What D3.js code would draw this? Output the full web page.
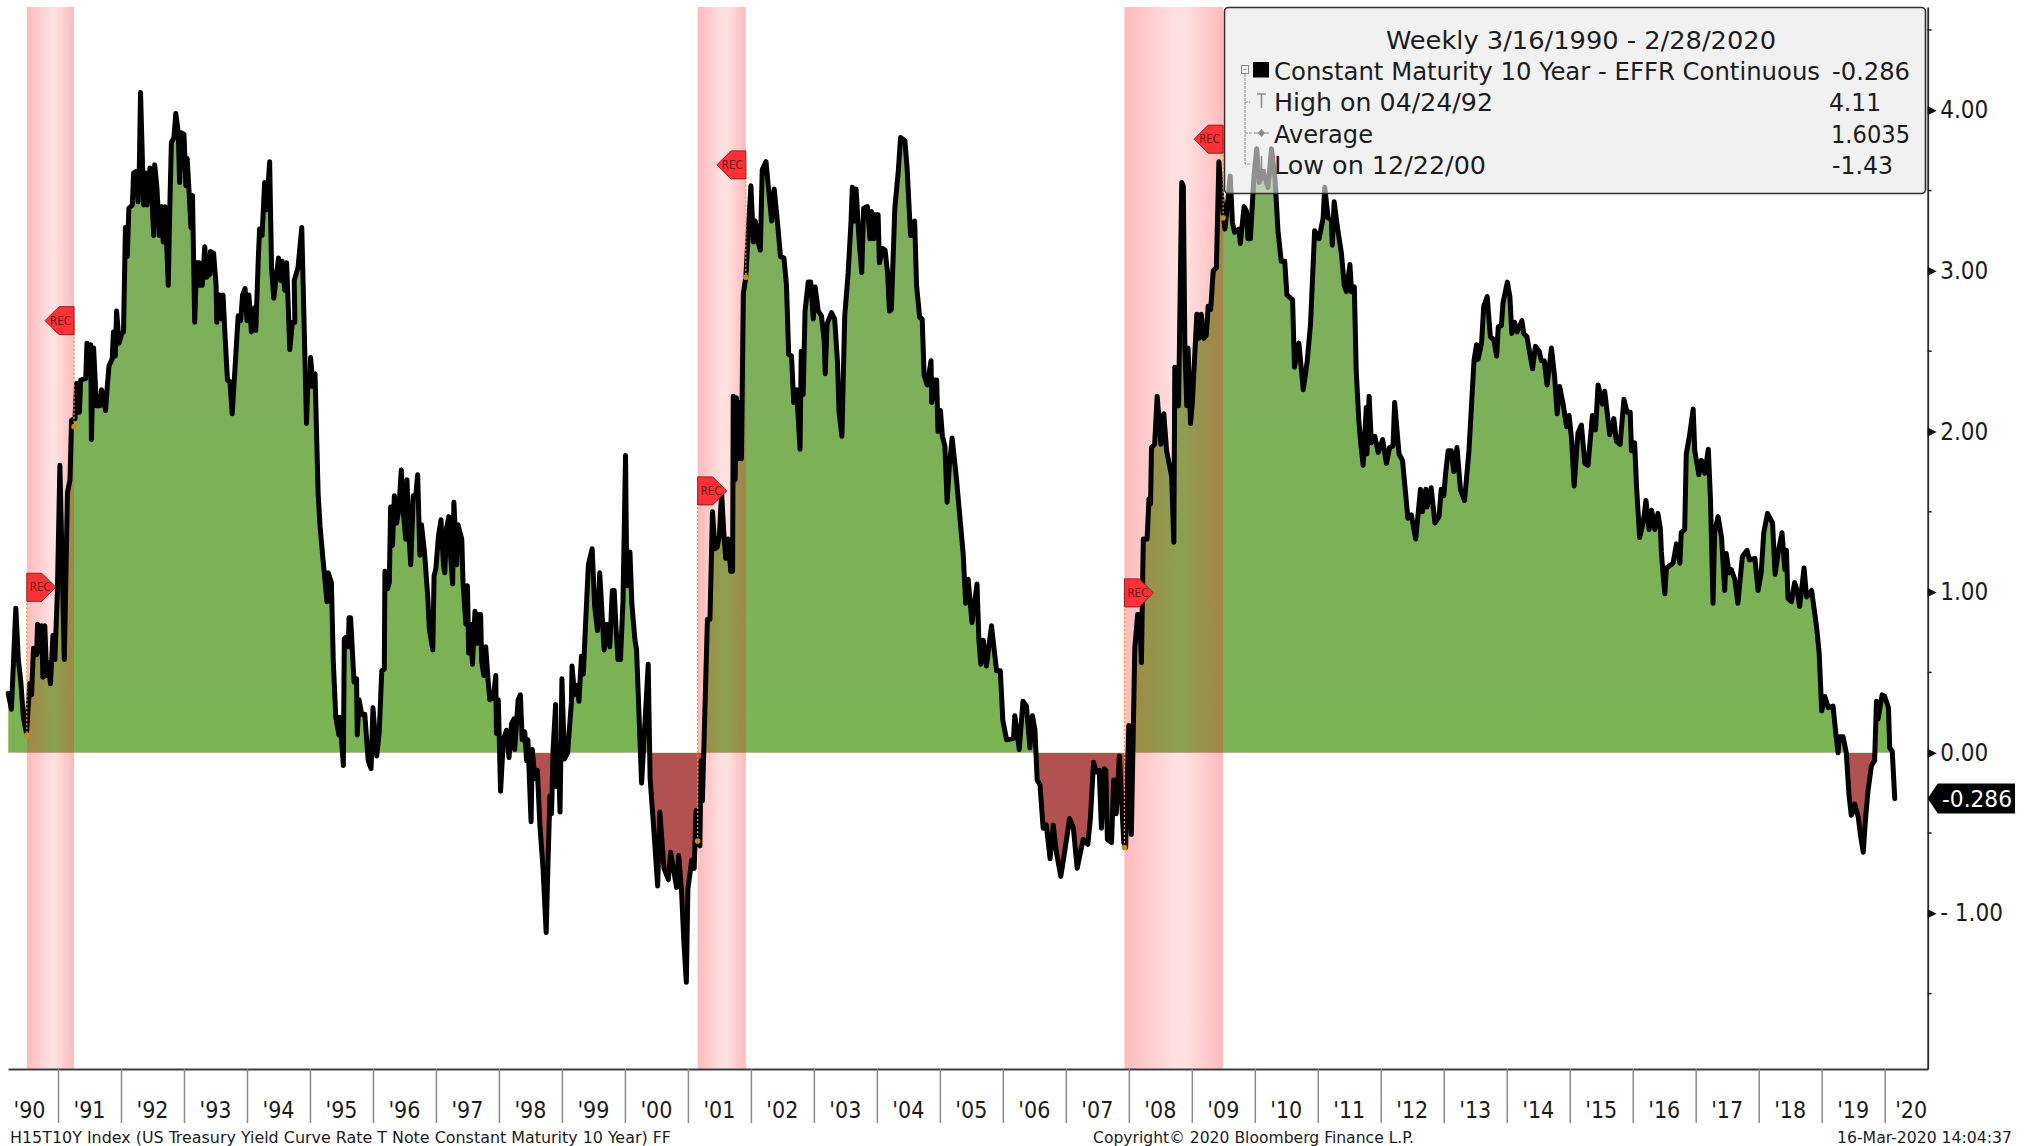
<!DOCTYPE html>
<html>
<head>
<meta charset="utf-8">
<script src="https://cdnjs.cloudflare.com/ajax/libs/d3/7.8.5/d3.min.js"></script>
<style>
html,body{margin:0;padding:0;background:#fff;}
svg{display:block;}
text{font-family:"DejaVu Sans Condensed","DejaVu Sans",sans-serif;font-stretch:condensed;fill:#1c1c1c;}
</style>
</head>
<body>
<svg id="chart" width="2028" height="1146"></svg>
<script>
// [decimal year, spread in percentage points]
const spread1990to1995 = [[1990.21,.37],[1990.26,.27],[1990.33,.90],[1990.37,.58],[1990.41,.44],[1990.45,.22],[1990.50,.12],[1990.55,.43],[1990.58,.36],[1990.61,.65],[1990.66,.61],[1990.675,.80],[1990.71,.63],[1990.74,.79],[1990.76,.47],[1990.79,.79],[1990.82,.48],[1990.845,.56],[1990.88,.43],[1990.92,.73],[1990.95,.58],[1990.99,1.0],[1991.03,1.79],[1991.10,.58],[1991.15,1.62],[1991.19,1.70],[1991.215,2.07],[1991.27,2.08],[1991.295,2.30],[1991.34,2.12],[1991.36,2.32],[1991.44,2.33],[1991.46,2.55],[1991.50,2.36],[1991.52,2.54],[1991.53,1.95],[1991.565,2.52],[1991.61,2.16],[1991.665,2.16],[1991.69,2.26],[1991.72,2.21],[1991.755,2.13],[1991.78,2.27],[1991.81,2.41],[1991.86,2.45],[1991.88,2.62],[1991.91,2.47],[1991.93,2.75],[1991.97,2.55],[1992.01,2.61],[1992.04,2.62],[1992.07,3.27],[1992.10,3.09],[1992.125,3.39],[1992.18,3.41],[1992.20,3.61],[1992.25,3.62],[1992.27,3.43],[1992.29,3.62],[1992.31,4.11],[1992.36,3.41],[1992.39,3.61],[1992.41,3.41],[1992.46,3.64],[1992.485,3.50],[1992.52,3.22],[1992.535,3.66],[1992.57,3.52],[1992.61,3.22],[1992.65,3.40],[1992.67,3.18],[1992.70,3.40],[1992.72,3.22],[1992.75,2.91],[1992.775,3.40],[1992.80,3.80],[1992.84,3.83],[1992.87,3.98],[1992.91,3.86],[1992.93,3.55],[1992.96,3.86],[1993.0,3.85],[1993.03,3.53],[1993.05,3.70],[1993.08,3.50],[1993.11,3.27],[1993.135,3.47],[1993.17,2.68],[1993.20,3.05],[1993.24,3.05],[1993.25,2.91],[1993.29,2.91],[1993.33,3.15],[1993.36,2.96],[1993.41,2.98],[1993.42,3.12],[1993.47,3.11],[1993.51,2.91],[1993.52,2.68],[1993.57,2.85],[1993.60,2.70],[1993.62,2.85],[1993.65,2.61],[1993.69,2.32],[1993.73,2.31],[1993.765,2.11],[1993.80,2.33],[1993.86,2.72],[1993.90,2.69],[1993.93,2.85],[1993.97,2.89],[1994.0,2.69],[1994.03,2.85],[1994.07,2.62],[1994.12,2.77],[1994.14,2.63],[1994.18,3.08],[1994.20,3.26],[1994.24,3.22],[1994.28,3.55],[1994.31,3.38],[1994.36,3.68],[1994.39,3.02],[1994.425,2.83],[1994.50,3.08],[1994.54,2.94],[1994.56,3.06],[1994.60,2.88],[1994.63,3.05],[1994.68,2.51],[1994.72,2.68],[1994.76,2.68],[1994.75,2.94],[1994.81,3.02],[1994.87,3.27],[1994.945,2.05],[1994.97,2.34],[1995.0,2.28],[1995.01,2.46],[1995.05,2.28],[1995.08,2.36],[1995.13,1.61],[1995.16,1.41],[1995.21,1.19],[1995.27,.94],[1995.29,1.12]];
const spread1995to2001 = [[1995.34,1.06],[1995.37,.57],[1995.41,.22],[1995.46,.11],[1995.475,.22],[1995.53,-.08],[1995.545,.71],[1995.58,.72],[1995.61,.66],[1995.62,.84],[1995.645,.84],[1995.70,.44],[1995.74,.46],[1995.75,.11],[1995.78,.33],[1995.82,.24],[1995.87,.24],[1995.925,-.05],[1995.97,-.10],[1996.0,.28],[1996.06,-.02],[1996.10,.13],[1996.14,.51],[1996.18,.52],[1996.19,1.13],[1996.23,1.02],[1996.26,1.06],[1996.28,1.53],[1996.31,1.29],[1996.34,1.60],[1996.375,1.43],[1996.41,1.51],[1996.45,1.76],[1996.48,1.51],[1996.52,1.33],[1996.54,1.70],[1996.575,1.33],[1996.60,1.17],[1996.64,1.60],[1996.68,1.60],[1996.71,1.73],[1996.745,1.23],[1996.77,1.42],[1996.82,1.24],[1996.87,.97],[1996.895,.77],[1996.95,.64],[1996.97,1.10],[1997.0,1.15],[1997.04,1.35],[1997.08,1.45],[1997.12,1.17],[1997.14,1.12],[1997.17,1.40],[1997.205,1.47],[1997.23,1.24],[1997.265,1.05],[1997.285,1.56],[1997.33,1.17],[1997.35,1.42],[1997.41,1.33],[1997.43,1.06],[1997.475,.80],[1997.50,1.04],[1997.52,.62],[1997.55,.80],[1997.58,.55],[1997.62,.88],[1997.645,.68],[1997.68,.86],[1997.71,.86],[1997.725,.57],[1997.76,.48],[1997.79,.66],[1997.83,.44],[1997.855,.33],[1997.91,.34],[1997.95,.48],[1997.96,.12],[1997.99,.33],[1998.026,-.24],[1998.07,.08],[1998.12,.14],[1998.16,-.03],[1998.20,.18],[1998.24,.21],[1998.25,.02],[1998.305,.33],[1998.34,.36],[1998.37,.08],[1998.41,.13],[1998.44,-.05],[1998.46,.08],[1998.51,-.43],[1998.53,.02],[1998.57,-.16],[1998.61,-.11],[1998.65,-.45],[1998.70,-.72],[1998.75,-1.12],[1998.78,-.67],[1998.81,-.27],[1998.835,-.38],[1998.86,.02],[1998.90,.30],[1998.91,-.21],[1998.94,.02],[1998.97,-.37],[1999.0,.46],[1999.04,-.04],[1999.09,0],[1999.15,.31],[1999.16,.54],[1999.20,.36],[1999.24,.42],[1999.27,.32],[1999.31,.60],[1999.34,.49],[1999.38,.84],[1999.42,1.17],[1999.48,1.27],[1999.52,.91],[1999.565,.76],[1999.60,1.12],[1999.67,.64],[1999.71,.80],[1999.76,.66],[1999.80,1.01],[1999.83,1.01],[1999.86,.77],[1999.89,.58],[1999.93,.58],[1999.97,.95],[2000.01,1.85],[2000.03,1.04],[2000.08,1.25],[2000.11,.93],[2000.16,.70],[2000.185,.64],[2000.265,-.19],[2000.37,.55],[2000.40,-.16],[2000.45,-.43],[2000.52,-.83],[2000.555,-.37],[2000.62,-.72],[2000.69,-.79],[2000.725,-.62],[2000.77,-.72],[2000.82,-.84],[2000.855,-.64],[2000.90,-.87],[2000.935,-1.17],[2000.975,-1.43],[2001.0,-.85],[2001.06,-.67],[2001.10,-.72],[2001.13,-.36],[2001.16,-.56]];
const spread2001to2006 = [[2001.19,-.58],[2001.21,-.05],[2001.23,-.30],[2001.31,.83],[2001.35,.83],[2001.39,1.50],[2001.43,1.27],[2001.465,1.28],[2001.50,1.35],[2001.535,1.62],[2001.57,1.37],[2001.60,1.21],[2001.64,1.33],[2001.68,1.13],[2001.71,1.13],[2001.72,2.22],[2001.75,1.70],[2001.77,2.21],[2001.79,1.83],[2001.83,2.18],[2001.85,1.83],[2001.88,2.86],[2001.92,2.96],[2001.95,3.18],[2002.0,3.53],[2002.04,3.18],[2002.07,3.31],[2002.12,3.17],[2002.15,3.13],[2002.18,3.63],[2002.24,3.68],[2002.28,3.51],[2002.33,3.31],[2002.37,3.51],[2002.42,3.31],[2002.47,3.09],[2002.525,3.08],[2002.565,2.91],[2002.60,2.48],[2002.645,2.47],[2002.68,2.18],[2002.725,2.26],[2002.78,1.89],[2002.80,2.50],[2002.83,2.23],[2002.86,2.75],[2002.91,2.93],[2002.95,2.93],[2002.99,2.70],[2003.02,2.90],[2003.07,2.75],[2003.12,2.72],[2003.165,2.56],[2003.18,2.36],[2003.21,2.67],[2003.28,2.74],[2003.33,2.70],[2003.375,2.43],[2003.40,2.12],[2003.445,1.97],[2003.49,2.72],[2003.545,2.99],[2003.59,3.31],[2003.61,3.52],[2003.64,3.31],[2003.67,3.51],[2003.72,3.18],[2003.76,2.99],[2003.79,3.39],[2003.85,3.40],[2003.89,3.20],[2003.915,3.37],[2003.95,3.20],[2003.97,3.35],[2004.02,3.35],[2004.04,3.05],[2004.09,3.14],[2004.13,3.13],[2004.17,2.99],[2004.20,2.75],[2004.23,2.76],[2004.285,3.39],[2004.34,3.62],[2004.376,3.83],[2004.445,3.81],[2004.48,3.64],[2004.535,3.22],[2004.565,3.22],[2004.60,3.31],[2004.63,2.91],[2004.68,2.71],[2004.72,2.70],[2004.75,2.35],[2004.80,2.29],[2004.86,2.44],[2004.87,2.18],[2004.92,2.32],[2004.95,2.32],[2004.97,2.0],[2005.01,2.13],[2005.04,1.97],[2005.08,1.91],[2005.115,1.56],[2005.15,1.78],[2005.195,1.96],[2005.265,1.70],[2005.31,1.50],[2005.37,1.24],[2005.41,.93],[2005.45,1.08],[2005.51,.81],[2005.59,1.05],[2005.62,.70],[2005.65,.55],[2005.69,.70],[2005.74,.54],[2005.82,.79],[2005.90,.51],[2005.96,.51]];
const spread2006to2011 = [[2006.0,.20],[2006.06,.08],[2006.17,.09],[2006.19,.23],[2006.26,.02],[2006.32,.32],[2006.375,.29],[2006.43,.03],[2006.47,.23],[2006.51,.14],[2006.545,-.17],[2006.59,-.20],[2006.64,-.47],[2006.69,-.45],[2006.75,-.66],[2006.80,-.45],[2006.85,-.62],[2006.92,-.77],[2006.98,-.62],[2007.06,-.41],[2007.12,-.47],[2007.18,-.72],[2007.275,-.54],[2007.35,-.57],[2007.39,-.41],[2007.44,-.06],[2007.48,-.12],[2007.53,-.11],[2007.565,-.47],[2007.61,-.10],[2007.635,-.11],[2007.66,-.54],[2007.725,-.56],[2007.76,-.17],[2007.80,-.38],[2007.85,-.02],[2007.92,-.56],[2007.95,-.59],[2008.0,.17],[2008.04,-.51],[2008.095,.65],[2008.14,.86],[2008.175,.86],[2008.20,.56],[2008.23,1.33],[2008.29,1.33],[2008.32,1.58],[2008.345,1.55],[2008.36,1.90],[2008.41,1.92],[2008.45,2.22],[2008.48,2.07],[2008.51,1.92],[2008.555,2.11],[2008.60,1.88],[2008.68,1.72],[2008.715,1.31],[2008.73,2.40],[2008.76,2.16],[2008.79,2.16],[2008.84,3.55],[2008.865,3.53],[2008.89,2.52],[2008.92,2.16],[2008.94,2.52],[2008.98,2.05],[2009.01,2.19],[2009.08,2.73],[2009.115,2.58],[2009.15,2.73],[2009.19,2.58],[2009.23,2.60],[2009.26,2.78],[2009.30,2.76],[2009.34,3.0],[2009.39,3.02],[2009.43,3.68],[2009.47,3.48],[2009.525,3.26],[2009.575,3.45],[2009.61,3.59],[2009.645,3.30],[2009.68,3.24],[2009.75,3.26],[2009.77,3.17],[2009.83,3.40],[2009.87,3.37],[2009.89,3.20],[2009.93,3.20],[2009.985,3.58],[2010.03,3.76],[2010.07,3.55],[2010.13,3.62],[2010.21,3.52],[2010.265,3.76],[2010.32,3.58],[2010.37,3.24],[2010.42,3.06],[2010.475,3.06],[2010.51,2.85],[2010.60,2.82],[2010.63,2.40],[2010.70,2.55],[2010.77,2.26],[2010.83,2.43],[2010.885,2.67],[2010.95,3.25]];
const spread2011to2016 = [[2011.02,3.20],[2011.085,3.33],[2011.11,3.52],[2011.165,3.33],[2011.215,3.32],[2011.23,3.16],[2011.26,3.43],[2011.32,3.25],[2011.375,3.11],[2011.42,2.91],[2011.455,2.87],[2011.51,3.04],[2011.535,2.87],[2011.58,2.90],[2011.61,2.38],[2011.65,2.08],[2011.68,1.93],[2011.72,1.79],[2011.77,2.15],[2011.78,1.86],[2011.815,2.22],[2011.85,1.93],[2011.905,1.97],[2011.96,1.87],[2012.03,1.95],[2012.09,1.80],[2012.14,1.90],[2012.195,1.91],[2012.22,2.18],[2012.29,1.86],[2012.345,1.82],[2012.40,1.59],[2012.43,1.46],[2012.485,1.48],[2012.555,1.33],[2012.63,1.64],[2012.66,1.50],[2012.715,1.64],[2012.735,1.53],[2012.80,1.65],[2012.86,1.43],[2012.925,1.47],[2012.96,1.64],[2013.0,1.60],[2013.03,1.74],[2013.07,1.88],[2013.12,1.88],[2013.16,1.75],[2013.21,1.90],[2013.265,1.64],[2013.33,1.57],[2013.40,1.88],[2013.48,2.44],[2013.52,2.54],[2013.545,2.45],[2013.60,2.55],[2013.635,2.78],[2013.69,2.84],[2013.74,2.59],[2013.795,2.57],[2013.84,2.47],[2013.865,2.65],[2013.915,2.66],[2013.94,2.80],[2014.01,2.93],[2014.05,2.84],[2014.08,2.61],[2014.125,2.68],[2014.165,2.62],[2014.24,2.69],[2014.27,2.61],[2014.32,2.59],[2014.41,2.39],[2014.455,2.53],[2014.515,2.50],[2014.55,2.44],[2014.595,2.44],[2014.64,2.29],[2014.71,2.52],[2014.76,2.34],[2014.80,2.11],[2014.84,2.28],[2014.895,2.17],[2014.95,2.03],[2014.99,2.10],[2015.03,1.95],[2015.07,1.66],[2015.13,1.99],[2015.185,2.04],[2015.24,1.80],[2015.29,1.79],[2015.36,2.10],[2015.41,2.01],[2015.45,2.29],[2015.52,2.17],[2015.555,2.25],[2015.635,1.98],[2015.70,2.08],[2015.74,1.94],[2015.80,1.92],[2015.86,2.20],[2015.91,2.12],[2015.96,2.12]];
const spread2016to2020 = [[2015.98,1.88],[2016.03,1.93],[2016.06,1.66],[2016.11,1.34],[2016.165,1.43],[2016.21,1.57],[2016.26,1.39],[2016.30,1.51],[2016.35,1.39],[2016.40,1.49],[2016.44,1.39],[2016.455,1.25],[2016.48,1.12],[2016.51,.99],[2016.535,1.15],[2016.64,1.18],[2016.695,1.30],[2016.75,1.18],[2016.77,1.37],[2016.825,1.39],[2016.85,1.86],[2016.90,1.97],[2016.96,2.14],[2016.985,1.88],[2017.05,1.73],[2017.09,1.82],[2017.145,1.74],[2017.20,1.89],[2017.235,1.57],[2017.275,.93],[2017.30,1.37],[2017.355,1.47],[2017.41,1.34],[2017.46,1.01],[2017.485,1.24],[2017.53,1.12],[2017.565,1.14],[2017.62,1.08],[2017.67,.93],[2017.74,1.22],[2017.815,1.26],[2017.855,1.20],[2017.94,1.21],[2017.99,1.01],[2018.04,1.12],[2018.08,1.37],[2018.14,1.49],[2018.22,1.43],[2018.26,1.11],[2018.31,1.25],[2018.37,1.37],[2018.415,1.14],[2018.44,1.26],[2018.465,.96],[2018.52,.94],[2018.57,1.06],[2018.61,1.01],[2018.65,.91],[2018.72,1.15],[2018.76,.97],[2018.84,1.01],[2018.92,.78],[2018.96,.62],[2019.0,.26],[2019.05,.35],[2019.105,.28],[2019.18,.29],[2019.23,.10],[2019.26,0],[2019.28,.10],[2019.34,.10],[2019.39,0],[2019.435,-.27],[2019.47,-.39],[2019.525,-.32],[2019.58,-.40],[2019.615,-.51],[2019.66,-.62],[2019.70,-.39],[2019.735,-.24],[2019.79,-.08],[2019.84,-.05],[2019.87,.32],[2019.895,.21],[2019.96,.36],[2020.0,.35],[2020.06,.28],[2020.08,.03],[2020.12,.01],[2020.16,-.286]];

const yearLabels = ["'90","'91","'92","'93","'94","'95","'96","'97","'98","'99","'00","'01","'02","'03","'04","'05","'06","'07","'08","'09","'10","'11","'12","'13","'14","'15","'16","'17","'18","'19","'20"];
const yMajorTicks = [-1,0,1,2,3,4];
const yMinorTicks = [-1.5,-.5,.5,1.5,2.5,3.5,4.5];
// start/end of each recession, flag levels and marker levels
const recessionStart = [1990.505,2001.155,2007.93];
const recessionEnd = [1991.255,2001.92,2009.497];
const startFlagLevel = [1.03,1.63,.995];
const startDotLevel = [.11,-.55,-.59];
const endFlagLevel = [2.69,3.66,3.82];
const endDotLevel = [2.03,2.96,3.33];
const lastValue = -.286;
const legendTitle = "Weekly 3/16/1990 - 2/28/2020";
const legendNames = ["Constant Maturity 10 Year - EFFR Continuous","High on 04/24/92","Average","Low on 12/22/00"];
const legendValues = ["-0.286","4.11","1.6035","-1.43"];

const spread = [...spread1990to1995,...spread1995to2001,...spread2001to2006,...spread2006to2011,...spread2011to2016,...spread2016to2020];

const svg = d3.select("#chart");
const L = 8, R = 1927.7, T = 7, B = 1069;
const x = d3.scaleLinear().domain([1990.206,2020.683]).range([L,R]);
const y = d3.scaleLinear().domain([-1.9695,4.643]).range([B,T]);
const defs = svg.append("defs");

const bandGrad = defs.append("linearGradient").attr("id","band");
[[0,.30],[.5,.135],[.62,.135],[1,.30]].forEach(([o,a])=>bandGrad.append("stop").attr("offset",o).attr("stop-color","#ff1a20").attr("stop-opacity",a));
const greenGrad = defs.append("linearGradient").attr("id","green").attr("gradientUnits","userSpaceOnUse").attr("x1",0).attr("x2",0).attr("y1",y(4.1)).attr("y2",y(0));
greenGrad.append("stop").attr("offset",0).attr("stop-color","#7fad5f");
greenGrad.append("stop").attr("offset",1).attr("stop-color","#7ab452");
defs.append("clipPath").attr("id","above").append("rect").attr("x",L).attr("y",T).attr("width",R-L).attr("height",y(0)-T);
defs.append("clipPath").attr("id","below").append("rect").attr("x",L).attr("y",y(0)).attr("width",R-L).attr("height",B-y(0));

const area = d3.area().x(d=>x(d[0])).y0(y(0)).y1(d=>y(d[1]));
svg.append("path").attr("d",area(spread)).attr("fill","url(#green)").attr("clip-path","url(#above)");
svg.append("path").attr("d",area(spread)).attr("fill","#b25250").attr("clip-path","url(#below)");

svg.append("g").selectAll("rect").data(recessionStart).join("rect")
  .attr("x",d=>x(d)).attr("y",T).attr("height",B-T)
  .attr("width",(d,i)=>x(recessionEnd[i])-x(d)).attr("fill","url(#band)");

svg.append("path").attr("d",d3.line().x(d=>x(d[0])).y(d=>y(d[1]))(spread))
  .attr("fill","none").attr("stroke","#000").attr("stroke-width",5).attr("stroke-linejoin","round").attr("stroke-linecap","round");

// recession flags
function flag(xv, level, dot, dir){
  const px=x(xv), py=y(level), h=14, w=29, n=dir*15;
  svg.append("line").attr("x1",px).attr("x2",px).attr("y1",py).attr("y2",y(dot))
    .attr("stroke","#f59a23").attr("stroke-width",1.3).attr("stroke-dasharray","2 2");
  svg.append("circle").attr("cx",px).attr("cy",y(dot)).attr("r",2.8).attr("fill","#c98a12");
  svg.append("path").attr("d",d3.line()([[px,py-h],[px+n,py-h],[px+dir*w,py],[px+n,py+h],[px,py+h]])+"Z")
    .attr("fill","#fd3136").attr("stroke","#8c1f22").attr("stroke-width",1);
  svg.append("text").attr("x",px+dir*13.5).attr("y",py+4).attr("text-anchor","middle").attr("font-size",11.5).style("fill","#7a1015").text("REC");
}
recessionStart.forEach((d,i)=>flag(d,startFlagLevel[i],startDotLevel[i],1));
recessionEnd.forEach((d,i)=>flag(d,endFlagLevel[i],endDotLevel[i],-1));

// x axis
const xTicks = d3.range(1991,2021);
const xAxis = d3.axisBottom(x).tickValues(xTicks).tickSize(54).tickSizeOuter(0).tickFormat("");
const gx = svg.append("g").attr("transform",`translate(0,${B})`).call(xAxis);
gx.select(".domain").attr("stroke","#3c3c3c").attr("stroke-width",2);
gx.selectAll(".tick line").attr("stroke","#8a8a8a").attr("stroke-width",1.5);
const labelNudge = {0:3,30:-5};
svg.append("g").selectAll("text").data(yearLabels).join("text")
  .attr("x",(d,i)=>x(1990.5+i)+(labelNudge[i]||0)).attr("y",1118).attr("text-anchor","middle")
  .attr("font-size",23).text(d=>d);

// y axis
const fmt = d3.format(".2f");
const yAxis = d3.axisRight(y).tickValues(yMajorTicks).tickSize(0).tickSizeOuter(0).tickPadding(12.5).tickFormat(d=>fmt(Math.abs(d)).replace(/^/,d<0?"- ":""));
const gy = svg.append("g").attr("transform",`translate(${R},0)`).call(yAxis);
gy.select(".domain").attr("stroke","#2a2a2a").attr("stroke-width",1.8);
gy.selectAll(".tick text").attr("font-size",24).attr("font-family",null);
gy.selectAll(".tick").append("path").attr("d","M0,-4.5L9,0L0,4.5Z").attr("fill","#111");
svg.append("g").selectAll("line").data(yMinorTicks).join("line")
  .attr("x1",R).attr("x2",R+4).attr("y1",d=>y(d)).attr("y2",d=>y(d)).attr("stroke","#222").attr("stroke-width",1.5);

// last price tag
const tagY = y(lastValue);
svg.append("path").attr("d",d3.line()([[R,tagY],[R+10,tagY-15],[2015,tagY-15],[2015,tagY+15],[R+10,tagY+15]])+"Z").attr("fill","#000");
svg.append("text").attr("x",1942).attr("y",tagY+8).attr("font-size",23).attr("textLength",70).attr("lengthAdjust","spacingAndGlyphs").style("fill","#fff").text(legendValues[0]);

// legend
const lg = svg.append("g");
lg.append("rect").attr("x",1224.5).attr("y",7.5).attr("width",701).attr("height",186).attr("rx",4)
  .attr("fill","#e9e9e9").attr("fill-opacity",.62).attr("stroke","#2e2e2e").attr("stroke-width",1.6);
function ltext(t,xp,yp,len){
  lg.append("text").attr("x",xp).attr("y",yp).attr("font-size",24).attr("textLength",len).attr("lengthAdjust","spacingAndGlyphs").text(t);
}
ltext(legendTitle,1386,48.5,390);
const rowY=[80,111,143,174], nameLen=[546,219,99,212], valX=[1832,1829,1831,1832], valLen=[78,52,79,61];
legendNames.forEach((t,i)=>{ ltext(t,1274,rowY[i],nameLen[i]); ltext(legendValues[i],valX[i],rowY[i],valLen[i]); });
const tree="#8a8a8a";
lg.append("rect").attr("x",1241.5).attr("y",65.5).attr("width",7).attr("height",8).attr("fill","none").attr("stroke",tree);
lg.append("path").attr("d","M1243.5,69.5h3").attr("stroke",tree);
lg.append("path").attr("d","M1245,74V164H1250M1245,102H1250M1245,133H1252").attr("fill","none").attr("stroke",tree).attr("stroke-dasharray","3 1");
lg.append("rect").attr("x",1253).attr("y",62).attr("width",16).attr("height",15.5).attr("fill","#000");
lg.append("path").attr("d","M1257,94H1266M1261.5,94V108").attr("fill","none").attr("stroke",tree).attr("stroke-width",1.5);
lg.append("path").attr("d","M1254,133H1269").attr("stroke",tree);
lg.append("path").attr("d","M1261.5,129L1265,133L1261.5,137L1258,133Z").attr("fill",tree);
lg.append("path").attr("d","M1261.5,156V170M1257,170H1266").attr("fill","none").attr("stroke",tree).attr("stroke-width",1.5);

// footer
function ftext(t,xp,len){
  svg.append("text").attr("x",xp).attr("y",1142.5).attr("font-size",15.5).attr("textLength",len).attr("lengthAdjust","spacingAndGlyphs").text(t);
}
ftext("H15T10Y Index (US Treasury Yield Curve Rate T Note Constant Maturity 10 Year) FF",10,661);
ftext("Copyright\u00a9 2020 Bloomberg Finance L.P.",1093,321);
ftext("16-Mar-2020 14:04:37",1837,175);
</script>
</body>
</html>
